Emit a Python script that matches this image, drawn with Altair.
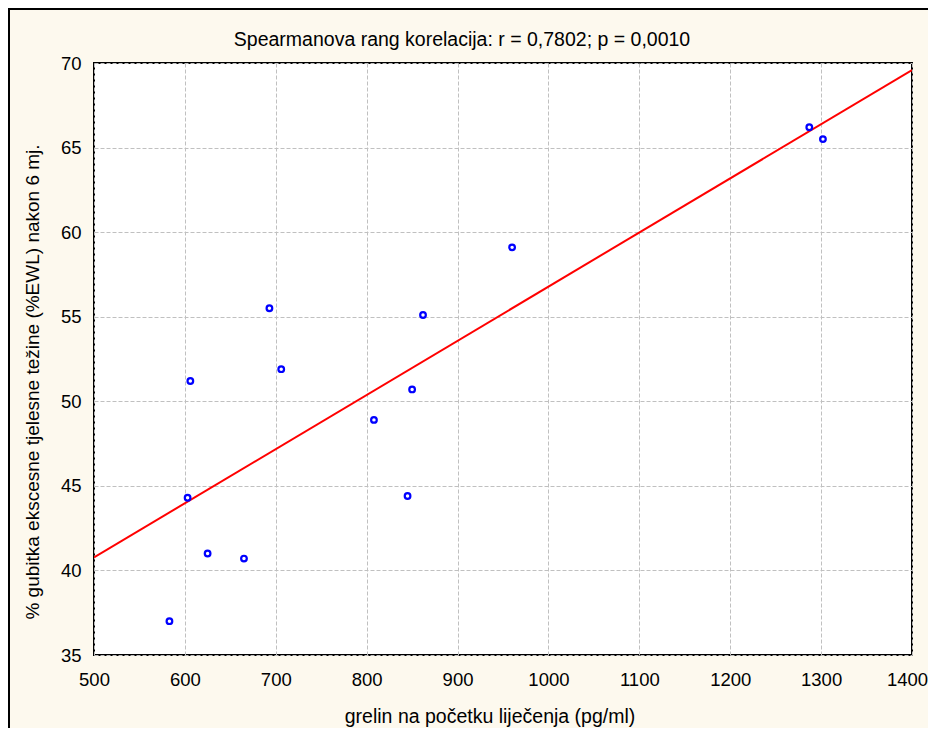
import altair as alt
import pandas as pd

# data
grelin = [583, 603, 606, 625, 665, 693, 706, 808, 845, 850, 862, 960, 1287, 1302]
ewl = [37.0, 44.3, 51.2, 41.0, 40.7, 55.5, 51.9, 48.9, 44.4, 50.7, 55.1, 59.1, 66.2, 65.5]
x_ticks = [500, 600, 700, 800, 900, 1000, 1100, 1200, 1300, 1400]
y_ticks = [35, 40, 45, 50, 55, 60, 65, 70]

title_text = "Spearmanova rang korelacija: r = 0,7802; p = 0,0010"
x_title = "grelin na početku liječenja (pg/ml)"
y_title = "% gubitka ekscesne tjelesne težine (%EWL) nakon 6 mj."

FONT = "Liberation Sans"
W, H = 818, 592

df = pd.DataFrame({"x": grelin, "y": ewl})

xs = alt.Scale(domain=[500, 1400], nice=False, zero=False)
ys = alt.Scale(domain=[35, 70], nice=False, zero=False)

grid_style = dict(grid=True, gridColor="#c0c0c0", gridDash=[4, 2], gridWidth=1,
                  domain=False, ticks=False, tickSize=0, labelFlush=False,
                  format="d", labelOverlap=False,
                  labelFont=FONT, labelFontSize=18.5, labelColor="black", title=None)

x_enc = alt.X("x:Q", scale=xs,
              axis=alt.Axis(values=x_ticks, labelPadding=15,
                            labelOffset=alt.condition("datum.value == 1400",
                                                      alt.value(-5), alt.value(0)),
                            **grid_style))
y_enc = alt.Y("y:Q", scale=ys,
              axis=alt.Axis(values=y_ticks, labelPadding=13, **grid_style))

points = alt.Chart(df).mark_point(
    shape="circle", filled=False, color="#0000ff", size=32, strokeWidth=2.2, opacity=1
).encode(x=x_enc, y=y_enc)

fit = alt.Chart(df).transform_regression(
    "x", "y", extent=[500, 1400]
).mark_line(color="#ff0000", strokeWidth=2, clip=True).encode(
    x=alt.X("x:Q", scale=xs), y=alt.Y("y:Q", scale=ys)
)

one = pd.DataFrame({"t": [title_text], "xt": [x_title], "yt": [y_title]})

frame = alt.Chart(one).mark_rect(
    filled=False, stroke="black", strokeWidth=2
).encode(x=alt.value(-85), x2=alt.value(1100), y=alt.value(-54), y2=alt.value(1000))

title = alt.Chart(one).mark_text(
    font=FONT, fontSize=19.5, color="black", align="center", baseline="middle"
).encode(text="t:N", x=alt.value(368), y=alt.value(-23))

xtitle = alt.Chart(one).mark_text(
    font=FONT, fontSize=19.5, color="black", align="center", baseline="middle"
).encode(text="xt:N", x=alt.value(396), y=alt.value(654))

ytitle = alt.Chart(one).mark_text(
    font=FONT, fontSize=19, color="black", align="center", baseline="middle", angle=270
).encode(text="yt:N", x=alt.value(-61), y=alt.value(319))

chart = alt.layer(fit, points, frame, title, xtitle, ytitle).properties(
    width=W, height=H,
    autosize=alt.AutoSizeParams(type="none"),
    padding={"left": 86, "top": 55, "right": 16, "bottom": 73},
    background="#fdf9ee",
).configure_view(stroke="black", strokeWidth=2, fill="white")

chart.save("out.html", embed_options={"renderer": "svg", "actions": False})
